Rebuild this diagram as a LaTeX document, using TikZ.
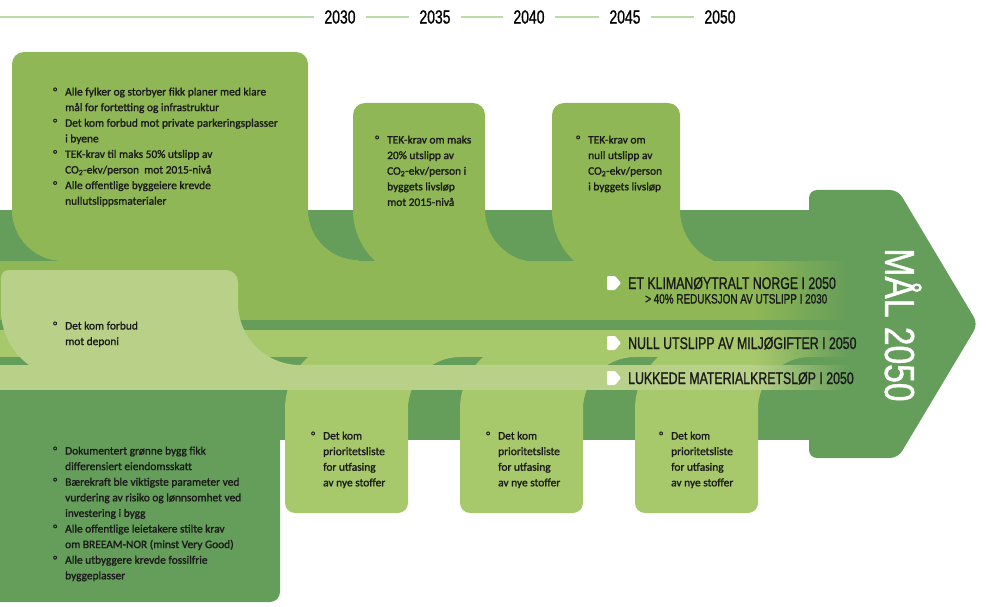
\documentclass[tikz,border=0pt]{standalone}
\usepackage{fontspec}
\setmainfont{Carlito}[FakeBold=1.3]
\newfontfamily\headfont{Liberation Sans}[FakeStretch=0.735, FakeBold=1.0]
\newfontfamily\bigfont{Liberation Sans}[FakeStretch=0.8, FakeBold=1.0]
\usetikzlibrary{fadings}
\definecolor{darkG}{RGB}{101,157,90}
\definecolor{midG}{RGB}{143,183,86}
\definecolor{bandB}{RGB}{168,200,108}
\definecolor{bandC}{RGB}{185,208,137}
\definecolor{lineG}{RGB}{185,220,170}
\definecolor{ink}{RGB}{26,26,26}
\tikzfading[name=fadeR, left color=transparent!100, right color=transparent!0]
% top tab: #1 colour, #2 xl, #3 xr, #4 top, #5 left corner radius, #6 fillet radius
\newcommand{\TopTab}[6]{%
  \fill[#1] (#2,{-#4-12}) -- (#2,-210)
    arc[start angle=180, end angle={180+asin(51/#5)}, radius=#5pt]
    -- ++(0,-14) -- ({#3+#6},-275) -- ({#3+#6},{-210-#6})
    arc[start angle=270, end angle=180, radius=#6pt]
    -- (#3,{-#4-12}) arc[start angle=0, end angle=90, radius=12pt]
    -- ({#2+12},-#4) arc[start angle=90, end angle=180, radius=12pt] -- cycle;}
% bottom tab: #1 xl, #2 xr
\newcommand{\BotTab}[2]{%
  \fill[bandB] ({#1+23.16},-345) -- ({#1+23.16},-356.98)
    arc[start angle=132, end angle=180, radius=70pt]
    -- (#1,-503) arc[start angle=180, end angle=270, radius=10pt]
    -- ({#2-10},-513) arc[start angle=270, end angle=360, radius=10pt]
    -- (#2,-409) arc[start angle=180, end angle=90, radius=52pt]
    -- ({#2+52},-345) -- cycle;}
\newcommand{\Marker}[1]{%
  \fill[white, rounded corners=1pt] (607,{-#1+7}) -- (615,{-#1+7}) -- (621,-#1) -- (615,{-#1-7}) -- (607,{-#1-7}) -- cycle;}
\newcommand{\blist}[1]{\begin{tabular}[t]{@{}p{12pt}@{}l@{}}#1\end{tabular}}
\tikzset{
  btext/.style={font=\fontsize{11.4}{15.6}\selectfont, text=ink, inner sep=0pt, anchor=base west},
  head/.style={font=\headfont\fontsize{16.8}{18}\selectfont, text=ink, inner sep=0pt, anchor=base west},
  subhead/.style={font=\headfont\fontsize{13.5}{15}\selectfont, text=ink, inner sep=0pt, anchor=base west},
  year/.style={font=\headfont\fontsize{19}{19}\selectfont, text=black, inner xsep=10pt, inner ysep=0pt},
  tline/.style={draw=lineG, line width=1.2pt},
}
\begin{document}
\begin{tikzpicture}[x=1pt, y=1pt]
\useasboundingbox (0,0) rectangle (989,-607);
% timeline
\coordinate (t0) at (0,-17);
\node[year] (y30) at (340,-17) {2030};
\node[year] (y35) at (435,-17) {2035};
\node[year] (y40) at (529,-17) {2040};
\node[year] (y45) at (625,-17) {2045};
\node[year] (y50) at (720,-17) {2050};
\draw[tline] (t0) -- (y30.west);
\draw[tline] (y30) -- (y35);
\draw[tline] (y35) -- (y40);
\draw[tline] (y40) -- (y45);
\draw[tline] (y45) -- (y50);
% dark arrow
\fill[darkG] (0,-210) rectangle (815,-440);
\fill[darkG, rounded corners=8pt] (809,-210) -- (809,-190) -- (898,-190) -- (978,-324) -- (898,-458) -- (809,-458) -- (809,-430) -- cycle;
\fill[darkG] (0,-380) -- (280,-380) -- (280,-592) arc[start angle=0, end angle=-90, radius=10pt] -- (0,-602) -- cycle;
% band 1 with top tabs
\fill[midG] (0,-261) rectangle (850,-320);
\TopTab{midG}{12}{308}{52}{51}{50}
\TopTab{midG}{353}{485}{103}{70}{52}
\TopTab{midG}{552}{680}{103}{70}{55}
% band 2 with bottom tabs
\fill[bandB] (0,-330) rectangle (850,-357);
\BotTab{285}{408}
\BotTab{460}{583}
\BotTab{635}{758}
% band 3 with deponi tab
\fill[bandC] (0,-365) rectangle (850,-390);
\fill[bandC] (1,-278) arc[start angle=180, end angle=90, radius=8pt] -- (226,-270)
  arc[start angle=90, end angle=0, radius=12pt] -- (238,-303)
  arc[start angle=180, end angle=270, radius=62pt] -- (300,-372) -- (29,-372) -- (29,-365)
  arc[start angle=234, end angle=180, radius=68pt] -- cycle;
% fade of the bands into the arrow
\fill[darkG, path fading=fadeR] (755,-255) rectangle (850,-395);
% goal markers and labels
\Marker{283}
\Marker{343}
\Marker{378}
\node[head] (g1) at (628,-289) {ET KLIMANØYTRALT NORGE I 2050};
\node[subhead] (g1s) at (645,-303.5) {> 40\% REDUKSJON AV UTSLIPP I 2030};
\node[head] (g2) at (628,-349) {NULL UTSLIPP AV MILJØGIFTER I 2050};
\node[head] (g3) at (628,-384) {LUKKEDE MATERIALKRETSLØP I 2050};
\node[font=\bigfont\fontsize{42}{42}\selectfont, text=white, rotate=-90, anchor=base, inner sep=0pt] (mal) at (885,-325) {MÅL 2050};
% box texts
\node[btext] (b1) at (53,-95.5) {\blist{°&Alle fylker og storbyer fikk planer med klare\\
 &mål for fortetting og infrastruktur\\
 °&Det kom forbud mot private parkeringsplasser\\
 &i byene\\
 °&TEK-krav til maks 50\% utslipp av\\
 &CO\textsubscript{2}-ekv/person\ \ mot 2015-nivå\\
 °&Alle offentlige byggeiere krevde\\
 &nullutslippsmaterialer}};
\node[btext] (b2) at (375,-143.5) {\blist{°&TEK-krav om maks\\ &20\% utslipp av\\ &CO\textsubscript{2}-ekv/person i\\ &byggets livsløp\\ &mot 2015-nivå}};
\node[btext] (b3) at (576,-143.5) {\blist{°&TEK-krav om\\ &null utslipp av\\ &CO\textsubscript{2}-ekv/person\\ &i byggets livsløp}};
\node[btext] (dep) at (53,-329.5) {\blist{°&Det kom forbud\\ &mot deponi}};
\node[btext] (bA) at (311,-439.5) {\blist{°&Det kom\\ &prioritetsliste\\ &for utfasing\\ &av nye stoffer}};
\node[btext] (bB) at (486,-439.5) {\blist{°&Det kom\\ &prioritetsliste\\ &for utfasing\\ &av nye stoffer}};
\node[btext] (bC) at (659,-439.5) {\blist{°&Det kom\\ &prioritetsliste\\ &for utfasing\\ &av nye stoffer}};
\node[btext] (bD) at (53,-454.5) {\blist{°&Dokumentert grønne bygg fikk\\
 &differensiert eiendomsskatt\\
 °&Bærekraft ble viktigste parameter ved\\
 &vurdering av risiko og lønnsomhet ved\\
 &investering i bygg\\
 °&Alle offentlige leietakere stilte krav\\
 &om BREEAM-NOR (minst Very Good)\\
 °&Alle utbyggere krevde fossilfrie\\
 &byggeplasser}};
\end{tikzpicture}
\end{document}
